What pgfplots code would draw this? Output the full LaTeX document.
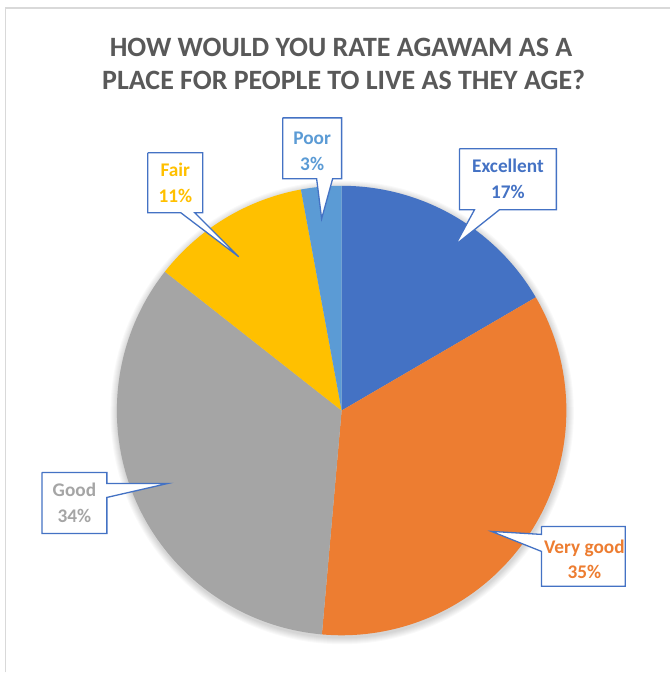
\documentclass[border=0pt]{standalone}
\usepackage{pgfplots}
\pgfplotsset{compat=1.18}
\usepackage{fontspec}
\setmainfont{Carlito}
\definecolor{cExc}{HTML}{4472C4}
\definecolor{cVg}{HTML}{ED7D31}
\definecolor{cGood}{HTML}{A5A5A5}
\definecolor{cFair}{HTML}{FFC000}
\definecolor{cPoor}{HTML}{5B9BD5}
\definecolor{cTitle}{HTML}{595959}
\definecolor{cFrame}{HTML}{D9D9D9}
\definecolor{cCall}{HTML}{4472C4}
% shares (percent), clockwise from 12 o'clock
\def\vExc{16.6}
\def\vVg{34.8}
\def\vGood{34.2}
\def\vFair{11.5}
\def\vPoor{2.9}
\pgfmathsetmacro\aA{0}
\pgfmathsetmacro\aB{\aA+3.6*\vExc}
\pgfmathsetmacro\aC{\aB+3.6*\vVg}
\pgfmathsetmacro\aD{\aC+3.6*\vGood}
\pgfmathsetmacro\aE{\aD+3.6*\vFair}
\pgfmathsetmacro\aF{\aE+3.6*\vPoor}
\def\cx{342}
\def\cy{262}
\def\R{225}
\newcommand\lab[1]{\fontsize{19.3}{26}\selectfont\bfseries #1}
\begin{document}
\begin{tikzpicture}
\begin{axis}[width=671pt,height=673pt,scale only axis,
  xmin=0,xmax=671,ymin=0,ymax=673,hide axis,clip=false]
% background
\addplot[fill=white,draw=none] coordinates {(0,0) (671,0) (671,673) (0,673) (0,0)};
% frame
\addplot[cFrame,line width=1.5pt] coordinates {(5.5,0) (5.5,665) (671,665)};
% title
\node[anchor=base,font=\fontsize{28}{33}\selectfont\bfseries,text=cTitle] at (axis cs:341.5,616) {HOW WOULD YOU RATE AGAWAM AS A};
\node[anchor=base,font=\fontsize{28}{33}\selectfont\bfseries,text=cTitle] at (axis cs:344,583) {PLACE FOR PEOPLE TO LIVE AS THEY AGE?};
% soft shadow
\pgfplotsinvokeforeach{1,2,3,4,5,6,7}{
\addplot[fill=black,fill opacity=0.022,draw=none,domain=0:360,samples=150,variable=\t]
  ({\cx+0.5+(\R+#1)*sin(\t)},{\cy-2+(\R+#1)*cos(\t)});
}
% slices
\addplot[fill=cExc,draw=none,domain=\aA:\aB,samples=60,variable=\t] ({\cx+\R*sin(\t)},{\cy+\R*cos(\t)}) -- (axis cs:\cx,\cy);
\addplot[fill=cVg,draw=none,domain=\aB:\aC,samples=90,variable=\t] ({\cx+\R*sin(\t)},{\cy+\R*cos(\t)}) -- (axis cs:\cx,\cy);
\addplot[fill=cGood,draw=none,domain=\aC:\aD,samples=90,variable=\t] ({\cx+\R*sin(\t)},{\cy+\R*cos(\t)}) -- (axis cs:\cx,\cy);
\addplot[fill=cFair,draw=none,domain=\aD:\aE,samples=40,variable=\t] ({\cx+\R*sin(\t)},{\cy+\R*cos(\t)}) -- (axis cs:\cx,\cy);
\addplot[fill=cPoor,draw=none,domain=\aE:\aF,samples=20,variable=\t] ({\cx+\R*sin(\t)},{\cy+\R*cos(\t)}) -- (axis cs:\cx,\cy);
% callouts
\addplot[fill=white,draw=cCall,line width=1.3pt,line join=miter] coordinates
  {(460,524) (557,524) (557,463) (500,463) (456,428) (475,463) (460,463) (460,524)};
\addplot[fill=white,draw=cCall,line width=1.3pt,line join=miter] coordinates
  {(283,555) (342,555) (342,494) (333,494) (322,454) (317,494) (283,494) (283,555)};
\addplot[fill=white,draw=cCall,line width=1.3pt,line join=miter] coordinates
  {(148,520) (203,520) (203,460) (195,460) (239,416) (181,460) (148,460) (148,520)};
\addplot[fill=white,draw=cCall,line width=1.3pt,line join=miter] coordinates
  {(542,146) (626,146) (626,86) (542,86) (542,121) (492,141) (542,138) (542,146)};
\addplot[fill=white,draw=cCall,line width=1.3pt,line join=miter] coordinates
  {(42,200) (107,200) (107,189) (168,189) (107,175) (107,139) (42,139) (42,200)};
% labels
\node[anchor=base,text=cExc] at (axis cs:508.5,500) {\lab{Excellent}};
\node[anchor=base,text=cExc] at (axis cs:508.5,474) {\lab{17\%}};
\node[anchor=base,text=cPoor] at (axis cs:312.5,528) {\lab{Poor}};
\node[anchor=base,text=cPoor] at (axis cs:312.5,502) {\lab{3\%}};
\node[anchor=base,text=cFair] at (axis cs:175.5,496) {\lab{Fair}};
\node[anchor=base,text=cFair] at (axis cs:175.5,470) {\lab{11\%}};
\node[anchor=base,text=cVg] at (axis cs:585,119) {\lab{Very good}};
\node[anchor=base,text=cVg] at (axis cs:585,94) {\lab{35\%}};
\node[anchor=base,text=cGood] at (axis cs:74.5,176) {\lab{Good}};
\node[anchor=base,text=cGood] at (axis cs:74.5,150) {\lab{34\%}};
\end{axis}
\end{tikzpicture}
\end{document}
